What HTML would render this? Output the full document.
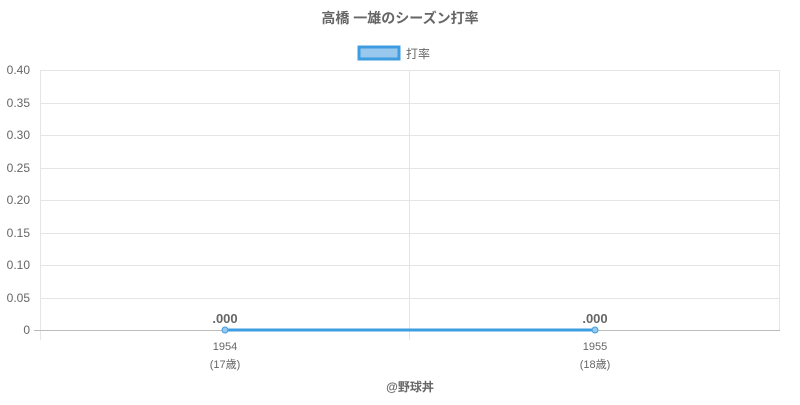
<!DOCTYPE html>
<html><head><meta charset="utf-8"><style>
body{margin:0;background:#fff;width:800px;height:400px;overflow:hidden}
svg text{font-family:"Liberation Sans","Noto Sans CJK JP",sans-serif}
</style></head><body>
<svg width="800" height="400" xmlns="http://www.w3.org/2000/svg">
<text x="400" y="23" text-anchor="middle" font-size="14" font-weight="bold" fill="#666">高橋 一雄のシーズン打率</text>
<rect x="359" y="47" width="40" height="12" fill="#99c8ee" stroke="#3d9de0" stroke-width="3"/>
<text x="406" y="58" font-size="12" fill="#666">打率</text>
<g stroke="#e5e5e5" stroke-width="1">
<line x1="40" y1="70.5" x2="780" y2="70.5"/>
<line x1="40" y1="103.5" x2="780" y2="103.5"/>
<line x1="40" y1="135.5" x2="780" y2="135.5"/>
<line x1="40" y1="168.5" x2="780" y2="168.5"/>
<line x1="40" y1="200.5" x2="780" y2="200.5"/>
<line x1="40" y1="233.5" x2="780" y2="233.5"/>
<line x1="40" y1="265.5" x2="780" y2="265.5"/>
<line x1="40" y1="298.5" x2="780" y2="298.5"/>
<line x1="40.5" y1="70" x2="40.5" y2="340"/>
<line x1="409.5" y1="70" x2="409.5" y2="340"/>
<line x1="779.5" y1="70" x2="779.5" y2="330"/>
</g>
<line x1="34" y1="330.5" x2="780" y2="330.5" stroke="#bbb"/>
<g font-size="12" fill="#666" text-anchor="end">
<text x="30" y="74">0.40</text><text x="30" y="107">0.35</text><text x="30" y="139">0.30</text>
<text x="30" y="172">0.25</text><text x="30" y="204">0.20</text><text x="30" y="237">0.15</text>
<text x="30" y="269">0.10</text><text x="30" y="302">0.05</text><text x="30" y="334">0</text>
</g>
<g font-size="11" fill="#666" text-anchor="middle">
<text x="225" y="350">1954</text><text x="225" y="368">(17歳)</text>
<text x="595" y="350">1955</text><text x="595" y="368">(18歳)</text>
</g>
<line x1="225" y1="330" x2="595" y2="330" stroke="#3d9de0" stroke-width="3"/>
<circle cx="225" cy="330" r="3" fill="#99c8ee" stroke="#3d9de0"/>
<circle cx="595" cy="330" r="3" fill="#99c8ee" stroke="#3d9de0"/>
<g font-size="13" font-weight="bold" fill="#666" text-anchor="middle">
<text x="225" y="323">.000</text><text x="595" y="323">.000</text>
</g>
<text x="410" y="391" text-anchor="middle" font-size="12" font-weight="bold" fill="#666">@野球丼</text>
</svg>
</body></html>
